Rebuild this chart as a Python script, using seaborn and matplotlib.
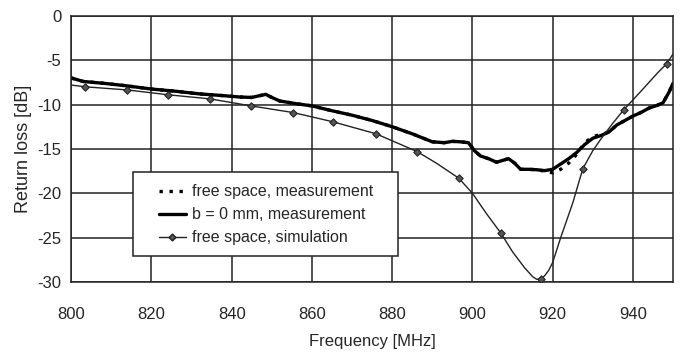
import numpy as np
import pandas as pd
import matplotlib
matplotlib.use("Agg")
import matplotlib.pyplot as plt
from matplotlib.lines import Line2D
from matplotlib.patches import Rectangle
import seaborn as sns

# b = 0 mm, measurement (thick solid)
meas_freq = [800, 803, 808, 814, 820, 826, 832, 838, 842, 845, 847, 848.5, 850, 852, 856,
             860, 865, 870, 875, 880, 885, 890, 893, 895, 897, 899, 900.5, 902, 904,
             906, 907.5, 909, 910.5, 912, 914, 916, 918, 920, 922, 924, 926, 928, 930,
             932, 934, 936, 938, 940, 942, 944, 946, 947.5, 949, 950]
meas_rl = [-7.0, -7.4, -7.6, -7.9, -8.25, -8.5, -8.8, -9.0, -9.15, -9.2, -9.0, -8.85, -9.2,
           -9.6, -9.9, -10.15, -10.7, -11.2, -11.8, -12.5, -13.3, -14.2, -14.3, -14.15,
           -14.2, -14.3, -15.2, -15.8, -16.1, -16.5, -16.3, -16.1, -16.6, -17.3, -17.3,
           -17.35, -17.45, -17.3, -16.7, -16.1, -15.4, -14.5, -13.8, -13.5, -13.1, -12.3,
           -11.8, -11.3, -10.9, -10.4, -10.1, -9.8, -8.6, -7.6]

# free space, measurement (dotted) - differs from b = 0 mm only near the minimum
free_freq = [800, 803, 808, 814, 820, 826, 832, 838, 842, 845, 847, 848.5, 850, 852, 856,
             860, 865, 870, 875, 880, 885, 890, 893, 895, 897, 899, 900.5, 902, 904,
             906, 907.5, 909, 910.5, 912, 914, 916, 918, 920, 922, 924, 926, 928, 930,
             932, 934, 936, 938, 940, 942, 944, 946, 947.5, 949, 950]
free_rl = [-7.0, -7.4, -7.6, -7.9, -8.25, -8.5, -8.8, -9.0, -9.15, -9.2, -9.0, -8.85, -9.2,
           -9.6, -9.9, -10.15, -10.7, -11.2, -11.8, -12.5, -13.3, -14.2, -14.3, -14.15,
           -14.2, -14.3, -15.2, -15.8, -16.1, -16.5, -16.3, -16.1, -16.6, -17.3, -17.3,
           -17.35, -17.5, -17.7, -17.3, -16.6, -15.6, -14.3, -13.6, -13.4, -13.1, -12.3,
           -11.8, -11.3, -10.9, -10.4, -10.1, -9.8, -8.6, -7.6]

# free space, simulation (thin line)
sim_freq = [800, 803.5, 813.9, 824.2, 834.6, 844.8, 855.3, 865.3, 876.0, 886.2, 891,
            896.6, 900, 903.5, 907.1, 910, 913, 915, 916, 917.1, 918, 919, 920, 922, 925,
            927.5, 930, 932, 935, 937.7, 942, 946, 948.4, 950]
sim_rl = [-7.8, -8.0, -8.35, -8.9, -9.36, -10.15, -10.9, -11.95, -13.3, -15.3, -16.6,
          -18.3, -20.0, -22.3, -24.5, -26.6, -28.4, -29.4, -29.7, -29.65, -29.3, -28.7,
          -27.8, -25.0, -21.1, -17.25, -15.2, -13.9, -12.1, -10.6, -8.5, -6.5, -5.4, -4.3]

# simulation sample points (diamond markers)
mark_freq = [803.5, 813.9, 824.2, 834.6, 844.8, 855.3, 865.3, 876.0, 886.2, 896.6,
             907.1, 917.1, 927.5, 937.7, 948.4]
mark_rl = [-8.0, -8.35, -8.9, -9.36, -10.15, -10.9, -11.95, -13.3, -15.3, -18.3,
           -24.5, -29.65, -17.25, -10.6, -5.4]

xticks = [800, 820, 840, 860, 880, 900, 920, 940]
yticks = [0, -5, -10, -15, -20, -25, -30]
labels = ["free space, measurement", "b = 0 mm, measurement", "free space, simulation"]

sns.set_style("white")
plt.rcParams['font.family'] = ['Liberation Sans', 'DejaVu Sans']
plt.rcParams['axes.unicode_minus'] = False

fig, ax = plt.subplots(figsize=(6.84, 3.52), dpi=100)
fig.subplots_adjust(left=0.104, right=0.984, top=0.955, bottom=0.199)

dots = (0, (1, 2))
sns.lineplot(x=free_freq, y=free_rl, ax=ax, color="black", linewidth=2.4,
             linestyle=dots, sort=False)
sns.lineplot(x=meas_freq, y=meas_rl, ax=ax, color="black", linewidth=2.4, sort=False)
sns.lineplot(x=sim_freq, y=sim_rl, ax=ax, color="#222222", linewidth=1.0, sort=False)
sns.scatterplot(x=mark_freq, y=mark_rl, ax=ax, marker="D", s=14, color="#555555",
                edgecolor="#222222", linewidth=0.8, zorder=4)

ax.set_xlim(800, 950)
ax.set_ylim(-30, 0)
ax.set_xticks(xticks)
ax.set_yticks(yticks)
ax.grid(True, color="#222222", linewidth=1.1)
for s in ax.spines.values():
    s.set_color("#222222")
    s.set_linewidth(1.1)
ax.tick_params(direction="out", length=4, width=1.1, color="#222222", labelsize=12)
ax.tick_params(axis="x", pad=14)
ax.tick_params(axis="y", pad=3)
ax.set_xlabel("Frequency [MHz]", fontsize=12, labelpad=8.5)
ax.set_ylabel("Return loss [dB]", fontsize=13, labelpad=4)

# legend box (wide side padding as in the original)
box = Rectangle((0.103, 0.098), 0.44, 0.316, transform=ax.transAxes,
                facecolor="white", edgecolor="#222222", linewidth=1.1, zorder=5)
ax.add_patch(box)

handles = [
    Line2D([], [], color="black", linewidth=2.4, linestyle=dots),
    Line2D([], [], color="black", linewidth=2.4),
    Line2D([], [], color="#222222", linewidth=1.0, marker="D", markersize=3.5,
           markerfacecolor="#555555", markeredgecolor="#222222"),
]
leg = ax.legend(handles, labels, loc="center", bbox_to_anchor=(0.324, 0.252),
                fontsize=11.5, frameon=False, handlelength=1.7, handletextpad=0.4,
                borderpad=0, labelspacing=0.5, borderaxespad=0)
leg.set_zorder(6)

fig.savefig("out.png", dpi=100)
